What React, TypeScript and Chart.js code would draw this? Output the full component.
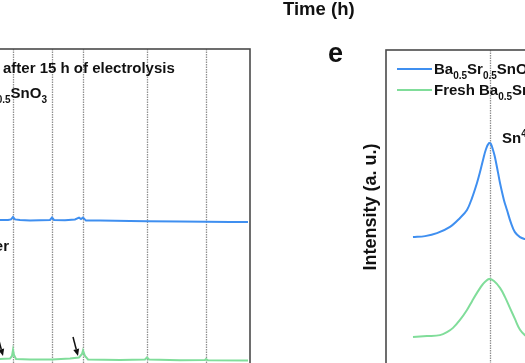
import { useEffect, useRef } from 'react';
import { Chart, registerables } from 'chart.js';

Chart.register(...registerables);

// ---- Left panel (time trace) ----
const leftTime = [0, 2.0, 2.8, 3.1, 3.3, 3.5, 4.0, 5.0, 6.0, 7.0, 7.2, 7.4, 8.5, 9.5, 9.9, 10.1, 10.3, 10.6, 12, 15, 16.7, 20, 22.6, 25, 26.8];
const leftBlue = [53.0, 53.0, 53.0, 53.2, 54.0, 53.2, 53.0, 52.8, 52.9, 53.0, 53.8, 53.0, 52.9, 53.2, 53.8, 53.3, 53.8, 52.8, 52.8, 52.7, 52.6, 52.5, 52.4, 52.3, 52.3];
const leftGreenTime = [0, 2.0, 3.0, 3.2, 3.3, 3.4, 3.6, 5.0, 7.2, 9.0, 9.9, 10.2, 10.3, 10.5, 10.8, 14, 16.5, 16.7, 16.9, 20, 22.5, 22.6, 22.8, 26.8];
const leftGreen = [6.67, 6.67, 6.83, 7.67, 9.67, 8.0, 6.67, 6.5, 6.5, 6.83, 7.17, 8.33, 9.5, 7.67, 6.5, 6.33, 6.5, 7.17, 6.5, 6.23, 6.33, 6.67, 6.23, 6.17];
const leftMarkers = [3.3, 7.2, 10.3, 16.7, 22.6];

// ---- Right panel (spectrum e) ----
const blueEnergy = [490.57, 489.93, 489.30, 488.61, 488.08, 487.71, 487.44, 487.18, 487.02, 486.86, 486.70, 486.54, 486.44, 486.33, 486.23, 486.07, 485.96, 485.75, 485.59, 485.38, 485.17, 484.90, 484.64, 484.37];
const blueIntensity = [433, 436, 445, 464, 491, 515, 552, 597, 630, 667, 700, 718, 715, 697, 676, 630, 597, 545, 515, 476, 448, 433, 427, 424];
const greenEnergy = [490.57, 489.83, 489.14, 488.77, 488.45, 488.08, 487.71, 487.44, 487.18, 486.86, 486.54, 486.28, 485.96, 485.70, 485.43, 485.17, 484.90, 484.64, 484.37];
const greenIntensity = [130, 133, 136, 145, 158, 182, 212, 239, 264, 291, 306, 300, 279, 252, 218, 185, 152, 136, 127];
const peakMarkers = [486.5];

const BLUE = '#3f8ff0';
const GREEN = '#80dd9a';
const FONT = "Arial, 'Liberation Sans', Helvetica, sans-serif";

type Seg = { t: string; sub?: boolean; sup?: boolean };

const BSSO: Seg[] = [
  { t: 'Ba' }, { t: '0.5', sub: true }, { t: 'Sr' }, { t: '0.5', sub: true }, { t: 'SnO' }, { t: '3', sub: true },
];

function segFont(s: Seg, size: number) {
  return `bold ${s.sub || s.sup ? Math.round(size * 0.66) : size}px ${FONT}`;
}
function measureRich(ctx: CanvasRenderingContext2D, segs: Seg[], size: number) {
  let w = 0;
  for (const s of segs) {
    ctx.font = segFont(s, size);
    w += ctx.measureText(s.t).width;
  }
  return w;
}
function drawRich(ctx: CanvasRenderingContext2D, segs: Seg[], x: number, y: number, size: number, align: 'left' | 'right' = 'left') {
  let cx = x;
  if (align === 'right') cx -= measureRich(ctx, segs, size);
  ctx.textAlign = 'left';
  ctx.textBaseline = 'alphabetic';
  for (const s of segs) {
    ctx.font = segFont(s, size);
    const dy = s.sub ? size * 0.32 : s.sup ? -size * 0.42 : 0;
    ctx.fillText(s.t, cx, y + dy);
    cx += ctx.measureText(s.t).width;
  }
}

function drawMarkers(chart: any, values: number[]) {
  const { ctx, chartArea } = chart;
  const xs = chart.scales.x;
  ctx.save();
  ctx.strokeStyle = '#8f8f8f';
  ctx.lineWidth = 1.3;
  ctx.setLineDash([1.5, 1]);
  for (const v of values) {
    const px = Math.round(xs.getPixelForValue(v)) + 0.5;
    ctx.beginPath();
    ctx.moveTo(px, chartArea.top);
    ctx.lineTo(px, chartArea.bottom);
    ctx.stroke();
  }
  ctx.restore();
}

function drawFrame(chart: any) {
  const { ctx, chartArea } = chart;
  ctx.save();
  ctx.strokeStyle = '#4a4a4a';
  ctx.lineWidth = 1.6;
  ctx.strokeRect(chartArea.left, chartArea.top, chartArea.right - chartArea.left, chartArea.bottom - chartArea.top);
  ctx.restore();
}

function drawArrow(ctx: CanvasRenderingContext2D, x1: number, y1: number, x2: number, y2: number) {
  const ang = Math.atan2(y2 - y1, x2 - x1);
  const hl = 7, hw = 3;
  const bx = x2 - hl * Math.cos(ang), by = y2 - hl * Math.sin(ang);
  ctx.save();
  ctx.strokeStyle = '#111';
  ctx.fillStyle = '#111';
  ctx.lineWidth = 1.5;
  ctx.beginPath();
  ctx.moveTo(x1, y1);
  ctx.lineTo(bx, by);
  ctx.stroke();
  ctx.beginPath();
  ctx.moveTo(x2, y2);
  ctx.lineTo(bx + hw * Math.sin(ang), by - hw * Math.cos(ang));
  ctx.lineTo(bx - hw * Math.sin(ang), by + hw * Math.cos(ang));
  ctx.closePath();
  ctx.fill();
  ctx.restore();
}

const LEFT_OFF = -40; // page x of left canvas
const RIGHT_OFF = 260; // page x of right canvas

export default function App() {
  const leftRef = useRef<HTMLCanvasElement>(null);
  const rightRef = useRef<HTMLCanvasElement>(null);

  useEffect(() => {
    const lp = (x: number) => x - LEFT_OFF;
    const rp = (x: number) => x - RIGHT_OFF;

    const leftPlugin = {
      id: 'leftDeco',
      beforeDatasetsDraw(chart: any) {
        drawMarkers(chart, leftMarkers);
      },
      afterDraw(chart: any) {
        const ctx: CanvasRenderingContext2D = chart.ctx;
        drawFrame(chart);
        ctx.save();
        ctx.fillStyle = '#111';
        const line1: Seg[] = [...BSSO, { t: ' after 15 h of electrolysis' }];
        const prefixW = measureRich(ctx, [...BSSO, { t: ' ' }], 15);
        drawRich(ctx, line1, lp(3) - prefixW, 73, 15);
        drawRich(ctx, [{ t: 'Fresh ' }, ...BSSO], lp(47), 98, 15, 'right');
        drawRich(ctx, [{ t: 'Carbon paper' }], lp(9), 251, 15, 'right');
        ctx.restore();
        drawArrow(ctx, lp(-2), 337, lp(3), 356);
        drawArrow(ctx, lp(73), 337, lp(78), 356);
      },
    };

    const rightPlugin = {
      id: 'rightDeco',
      beforeDatasetsDraw(chart: any) {
        drawMarkers(chart, peakMarkers);
      },
      afterDraw(chart: any) {
        const ctx: CanvasRenderingContext2D = chart.ctx;
        drawFrame(chart);
        ctx.save();
        ctx.fillStyle = '#111';
        ctx.textAlign = 'left';
        ctx.textBaseline = 'alphabetic';
        ctx.font = `bold 18.5px ${FONT}`;
        ctx.fillText('Time (h)', rp(283), 15);
        ctx.font = `bold 27px ${FONT}`;
        ctx.fillText('e', rp(328), 61.5);
        ctx.lineWidth = 2;
        ctx.strokeStyle = BLUE;
        ctx.beginPath();
        ctx.moveTo(rp(397), 69);
        ctx.lineTo(rp(432), 69);
        ctx.stroke();
        ctx.strokeStyle = GREEN;
        ctx.beginPath();
        ctx.moveTo(rp(397), 90);
        ctx.lineTo(rp(432), 90);
        ctx.stroke();
        drawRich(ctx, [...BSSO, { t: ' after 15 h of electrolysis' }], rp(434), 74, 15);
        drawRich(ctx, [{ t: 'Fresh ' }, ...BSSO], rp(434), 95, 15);
        drawRich(ctx, [{ t: 'Sn' }, { t: '4+', sup: true }], rp(502), 143, 15);
        ctx.save();
        ctx.translate(rp(371), 207);
        ctx.rotate(-Math.PI / 2);
        ctx.font = `bold 18px ${FONT}`;
        ctx.textAlign = 'center';
        ctx.textBaseline = 'middle';
        ctx.fillText('Intensity (a. u.)', 0, 0);
        ctx.restore();
        ctx.restore();
      },
    };

    const common = (xmin: number, xmax: number, ymax: number, padding: any, reverse = false) => ({
      animation: false as const,
      responsive: false,
      events: [] as any[],
      layout: { padding },
      plugins: { legend: { display: false }, tooltip: { enabled: false } },
      elements: { point: { radius: 0 } },
      scales: {
        x: { type: 'linear' as const, display: false, min: xmin, max: xmax, reverse },
        y: { type: 'linear' as const, display: false, min: 0, max: ymax },
      },
    });

    const left = new Chart(leftRef.current!, {
      type: 'line',
      data: {
        datasets: [
          { data: leftTime.map((x, i) => ({ x, y: leftBlue[i] })), borderColor: BLUE, borderWidth: 2, tension: 0 },
          { data: leftGreenTime.map((x, i) => ({ x, y: leftGreen[i] })), borderColor: GREEN, borderWidth: 2, tension: 0 },
        ],
      },
      options: common(0, 27, 110, { left: 20, right: 10, top: 49, bottom: 21 }) as any,
      plugins: [leftPlugin],
    });

    const right = new Chart(rightRef.current!, {
      type: 'line',
      data: {
        datasets: [
          { data: blueEnergy.map((x, i) => ({ x, y: blueIntensity[i] })), borderColor: BLUE, borderWidth: 2, tension: 0.35 },
          { data: greenEnergy.map((x, i) => ({ x, y: greenIntensity[i] })), borderColor: GREEN, borderWidth: 2, tension: 0.35 },
        ],
      },
      options: common(484, 492, 1000, { left: 126, right: 23, top: 50, bottom: 20 }, true) as any,
      plugins: [rightPlugin],
    });

    return () => {
      left.destroy();
      right.destroy();
    };
  }, []);

  return (
    <div style={{ position: 'fixed', left: 0, top: 0, width: 525, height: 363, overflow: 'hidden', background: '#fff' }}>
      <canvas ref={leftRef} width={300} height={400} style={{ position: 'absolute', left: LEFT_OFF, top: 0, width: 300, height: 400 }} />
      <canvas ref={rightRef} width={300} height={400} style={{ position: 'absolute', left: RIGHT_OFF, top: 0, width: 300, height: 400 }} />
    </div>
  );
}
